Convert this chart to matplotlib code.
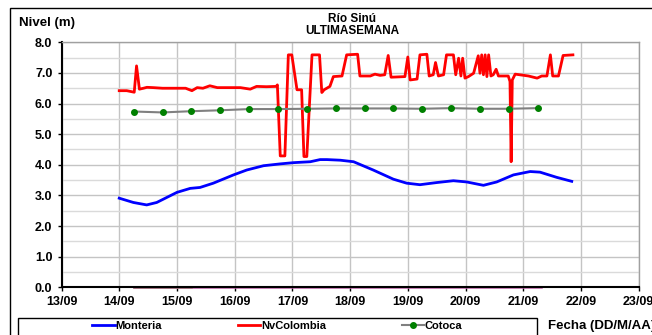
import matplotlib
matplotlib.use("Agg")
import matplotlib.pyplot as plt
from matplotlib.patches import Rectangle
from matplotlib.lines import Line2D

plt.rcParams['font.family'] = ['Liberation Sans', 'DejaVu Sans']
plt.rcParams['font.weight'] = 'bold'

# days since 13/09
fechas = ['13/09', '14/09', '15/09', '16/09', '17/09', '18/09',
          '19/09', '20/09', '21/09', '22/09', '23/09']

mont_dias = [1.00, 1.245, 1.476, 1.65, 2.0, 2.23, 2.40, 2.63, 2.98, 3.21, 3.50,
             3.79, 4.02, 4.31, 4.48, 4.6, 4.83, 5.06, 5.40, 5.75, 5.98, 6.21,
             6.50, 6.79, 7.02, 7.31, 7.54, 7.83, 8.12, 8.29, 8.58, 8.84]
mont_nivel = [2.91, 2.77, 2.69, 2.77, 3.10, 3.23, 3.26, 3.40, 3.67, 3.83, 3.97,
              4.03, 4.07, 4.10, 4.17, 4.17, 4.15, 4.10, 3.83, 3.53, 3.40, 3.35,
              3.42, 3.48, 3.44, 3.33, 3.44, 3.67, 3.78, 3.76, 3.59, 3.46]

nv_dias = [1.00, 1.13, 1.26, 1.30, 1.35, 1.42, 1.48, 1.59, 1.75, 1.95, 2.15,
           2.26, 2.35, 2.45, 2.57, 2.70, 2.90, 3.10, 3.27, 3.38, 3.55, 3.72,
           3.74, 3.79, 3.87, 3.93, 3.99, 4.08, 4.16, 4.20, 4.25, 4.34, 4.47,
           4.51, 4.55, 4.65, 4.71, 4.86, 4.94, 5.13, 5.17, 5.35, 5.43, 5.52,
           5.60, 5.66, 5.71, 5.95, 6.00, 6.04, 6.16, 6.21, 6.33, 6.37, 6.44,
           6.48, 6.53, 6.62, 6.67, 6.79, 6.83, 6.88, 6.92, 6.95, 6.99, 7.05,
           7.14, 7.22, 7.25, 7.28, 7.31, 7.34, 7.37, 7.40, 7.44, 7.48, 7.53,
           7.57, 7.74, 7.77, 7.79, 7.81, 7.86, 8.09, 8.24, 8.32, 8.41, 8.47,
           8.51, 8.61, 8.69, 8.86]
nv_nivel = [6.42, 6.42, 6.37, 7.23, 6.47, 6.50, 6.53, 6.52, 6.50, 6.50, 6.50,
            6.42, 6.52, 6.50, 6.58, 6.52, 6.52, 6.52, 6.47, 6.56, 6.55, 6.56,
            6.61, 4.29, 4.29, 7.59, 7.59, 6.45, 6.45, 4.27, 4.27, 7.59, 7.59,
            6.36, 6.45, 6.56, 6.88, 6.90, 7.59, 7.61, 6.90, 6.90, 6.96, 6.92,
            6.94, 7.57, 6.86, 6.88, 7.52, 6.77, 6.80, 7.59, 7.61, 6.90, 6.94,
            7.34, 6.90, 6.94, 7.59, 7.59, 6.94, 7.48, 6.90, 7.48, 6.83, 6.88,
            6.99, 7.56, 6.99, 7.59, 6.94, 7.59, 6.88, 7.59, 6.90, 6.94, 7.12,
            6.90, 6.90, 6.72, 4.10, 6.77, 6.96, 6.90, 6.83, 6.90, 6.90, 7.59,
            6.90, 6.90, 7.57, 7.59]

cot_dias = [1.25, 1.75, 2.25, 2.75, 3.25, 3.75, 4.25, 4.75, 5.25, 5.75,
            6.25, 6.75, 7.25, 7.75, 8.25]
cot_nivel = [5.74, 5.71, 5.75, 5.78, 5.82, 5.82, 5.83, 5.84, 5.84, 5.84,
             5.83, 5.85, 5.83, 5.83, 5.85]

cero_dias = [1.25, 8.30]
cero_nivel = [0.0, 0.0]
cero2_dias = [1.25, 2.25]
cero2_nivel = [0.0, 0.0]

fig = plt.figure(figsize=(6.52, 3.35), dpi=100)
ax = fig.add_axes([61.5 / 652, 1 - 287.3 / 335, (638.7 - 61.5) / 652, (287.3 - 42.3) / 335])

ax.set_xlim(0, 10)
ax.set_ylim(0, 8)
ax.set_xticks(range(11))
ax.set_xticklabels(fechas)
ax.set_yticks([i * 1.0 for i in range(9)])
ax.set_yticklabels(['%.1f' % i for i in range(9)])
ax.set_yticks([i + 0.5 for i in range(8)], minor=True)
ax.tick_params(axis='both', labelsize=9, length=3, width=1, direction='out', colors='black')
ax.tick_params(axis='y', which='minor', length=0)
ax.grid(True, which='major', color='#c4c4c4', linewidth=1)
ax.grid(True, which='minor', axis='y', color='#dadada', linewidth=1)
ax.set_axisbelow(True)
for s in ['left', 'bottom']:
    ax.spines[s].set_color('black')
    ax.spines[s].set_linewidth(1.5)
for s in ['top', 'right']:
    ax.spines[s].set_color('#a0a0a0')
    ax.spines[s].set_linewidth(1)

ax.plot(cero_dias, cero_nivel, color='#c060a8', lw=1.8, clip_on=False)
ax.plot(cero2_dias, cero2_nivel, color='#a07878', lw=1.8, clip_on=False)
ax.plot(mont_dias, mont_nivel, color='#0000ff', lw=2, solid_joinstyle='round')
ax.plot(nv_dias, nv_nivel, color='#ff0000', lw=2, solid_joinstyle='round')
ax.plot(cot_dias, cot_nivel, color='#808080', lw=1.5, marker='o', markersize=4,
        markerfacecolor='#008000', markeredgecolor='#008000')

fig.text(352 / 652, 1 - 19 / 335, 'Río Sinú', ha='center', va='center', fontsize=8.5, weight='bold')
fig.text(352 / 652, 1 - 30.5 / 335, 'ULTIMASEMANA', ha='center', va='center', fontsize=8.5, weight='bold')
fig.text(19 / 652, 1 - 23 / 335, 'Nivel (m)', ha='left', va='center', fontsize=9.5, weight='bold')
fig.text(548 / 652, 1 - 326 / 335, 'Fecha (DD/M/AA)', ha='left', va='center', fontsize=9.5, weight='bold')

# outer frame and legend box
fig.patches.append(Rectangle((10 / 652, -0.1), 1.0, 1 - 8 / 335 + 0.1, transform=fig.transFigure,
                             fill=False, edgecolor='black', lw=1))
fig.patches.append(Rectangle((18 / 652, -0.1), (537 - 18) / 652, 1 - 318 / 335 + 0.1,
                             transform=fig.transFigure, fill=False, edgecolor='black', lw=1))

handles = [Line2D([], [], color='#0000ff', lw=2),
           Line2D([], [], color='#ff0000', lw=2),
           Line2D([], [], color='#808080', lw=1.5, marker='o', markersize=4,
                  markerfacecolor='#008000', markeredgecolor='#008000')]
fig.legend(handles, ['Monteria', 'NvColombia', 'Cotoca'], loc='center',
           bbox_to_anchor=(277.5 / 652, 1 - 326 / 335), ncol=3, frameon=False,
           fontsize=8, handlelength=2.0, handletextpad=0.1, columnspacing=6.8,
           borderpad=0, borderaxespad=0)

fig.savefig('out.png', dpi=100)
